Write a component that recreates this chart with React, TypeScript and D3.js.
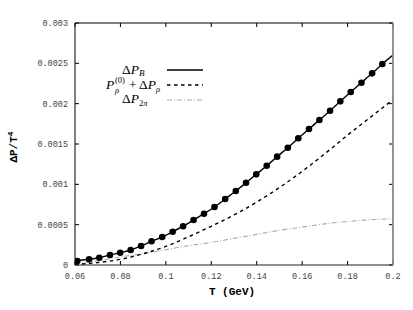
import React from "react";
import * as d3 from "d3";

// ΔP_B (solid with markers)
const bT = [0.0610, 0.0662, 0.0707, 0.0754, 0.0799, 0.0845, 0.0891, 0.0937, 0.0984, 0.1030,
  0.1076, 0.1122, 0.1168, 0.1214, 0.1261, 0.1308, 0.1353, 0.1398, 0.1444, 0.1490,
  0.1537, 0.1583, 0.1630, 0.1676, 0.1723, 0.1768, 0.1814, 0.1861, 0.1908, 0.1953];
const bV = [0.00005, 0.00007, 0.00009, 0.000124, 0.000152, 0.000186, 0.000236, 0.000295, 0.000347, 0.000412,
  0.000481, 0.000558, 0.000636, 0.000719, 0.000818, 0.000917, 0.00102, 0.001124, 0.00123, 0.001343,
  0.001454, 0.001571, 0.001686, 0.001797, 0.001913, 0.002029, 0.002145, 0.00226, 0.002376, 0.002492];
const bLineStart = [0.06, 0.00004];
const bLineEnd = [0.2, 0.002603];

// P_rho^(0) + ΔP_rho (dashed)
const rhoT = [0.06, 0.07, 0.08, 0.09, 0.10, 0.11, 0.12, 0.13, 0.14, 0.15, 0.16, 0.17, 0.18, 0.19, 0.20];
const rhoV = [0.000005, 0.00003, 0.00007, 0.00014, 0.00023, 0.00035, 0.00048, 0.00062, 0.00078, 0.00096,
  0.00116, 0.00138, 0.00161, 0.00183, 0.00205];

// ΔP_2π (gray dash-dot)
const pipiT = [0.06, 0.07, 0.08, 0.09, 0.10, 0.11, 0.12, 0.13, 0.14, 0.15, 0.16, 0.17, 0.18, 0.19, 0.20];
const pipiV = [0.00002, 0.00005, 0.0001, 0.00014, 0.00019, 0.00024, 0.00028, 0.00033, 0.00038, 0.00043,
  0.00047, 0.00051, 0.00054, 0.00056, 0.000575];

const xTicks = [0.06, 0.08, 0.1, 0.12, 0.14, 0.16, 0.18, 0.2];
const xTickLabels = ["0.06", "0.08", "0.1", "0.12", "0.14", "0.16", "0.18", "0.2"];
const yTicks = [0, 0.0005, 0.001, 0.0015, 0.002, 0.0025, 0.003];
const yTickLabels = ["0", "0.0005", "0.001", "0.0015", "0.002", "0.0025", "0.003"];

export default function App() {
  const W = 413, H = 310;
  const L = 75, R = 393, T = 23, B = 265;
  const x = d3.scaleLinear().domain([0.06, 0.2]).range([L, R]);
  const y = d3.scaleLinear().domain([0, 0.003]).range([B, T]);

  const line = d3.line<[number, number]>()
    .x(d => x(d[0])).y(d => y(d[1]))
    .curve(d3.curveMonotoneX);

  const bPts: [number, number][] = [
    [bLineStart[0], bLineStart[1]],
    ...bT.map((t, i) => [t, bV[i]] as [number, number]),
    [bLineEnd[0], bLineEnd[1]],
  ];
  const rhoPts = rhoT.map((t, i) => [t, rhoV[i]] as [number, number]);
  const pipiPts = pipiT.map((t, i) => [t, pipiV[i]] as [number, number]);

  const mono = "'Liberation Mono', 'DejaVu Sans Mono', monospace";
  const serif = "'Liberation Serif', 'DejaVu Serif', serif";
  const tickLen = 4;

  return (
    <svg width={W} height={H} style={{ position: "absolute", left: 0, top: 0, background: "#fff" }}>
      <defs>
        <clipPath id="plot">
          <rect x={L} y={T} width={R - L} height={B - T} />
        </clipPath>
      </defs>
      <rect x={0} y={0} width={W} height={H} fill="#fff" />

      {/* ticks */}
      {xTicks.map((t, i) => (
        <g key={"xt" + i}>
          <line x1={x(t)} x2={x(t)} y1={B} y2={B - tickLen} stroke="#000" strokeWidth={1} />
          <line x1={x(t)} x2={x(t)} y1={T} y2={T + tickLen} stroke="#000" strokeWidth={1} />
          <text x={x(t)} y={279} textAnchor="middle" fontFamily={mono} fontSize={8.5} fill="#444">
            {xTickLabels[i]}
          </text>
        </g>
      ))}
      {yTicks.map((t, i) => (
        <g key={"yt" + i}>
          <line x1={L} x2={L + tickLen} y1={y(t)} y2={y(t)} stroke="#000" strokeWidth={1} />
          <line x1={R} x2={R - tickLen} y1={y(t)} y2={y(t)} stroke="#000" strokeWidth={1} />
          <text x={68} y={y(t) + 3} textAnchor="end" fontFamily={mono} fontSize={8.5} fill="#444">
            {yTickLabels[i]}
          </text>
        </g>
      ))}

      {/* curves */}
      <g clipPath="url(#plot)">
        <path d={line(pipiPts) || ""} fill="none" stroke="#aaa" strokeWidth={1.1}
          strokeDasharray="5,2,1,2" />
        <path d={line(rhoPts) || ""} fill="none" stroke="#000" strokeWidth={1.4}
          strokeDasharray="3.5,3.5" />
        <path d={line(bPts) || ""} fill="none" stroke="#000" strokeWidth={1.4} />
        {bT.map((t, i) => (
          <circle key={"d" + i} cx={x(t)} cy={y(bV[i])} r={3.3} fill="#000" />
        ))}
      </g>

      {/* frame */}
      <line x1={L} x2={R} y1={T} y2={T} stroke="#000" strokeWidth={1} />
      <line x1={L} x2={L} y1={T} y2={B} stroke="#000" strokeWidth={1} />
      <line x1={L} x2={R} y1={B} y2={B} stroke="#222" strokeWidth={1.2} />
      <line x1={R} x2={R} y1={T} y2={B} stroke="#888" strokeWidth={1.8} />

      {/* legend */}
      <g fontFamily={serif} fontSize={13.5} fill="#000">
        <text x={122} y={74}>
          Δ<tspan fontStyle="italic">P</tspan>
          <tspan fontStyle="italic" fontSize={9} dy={2}>B</tspan>
        </text>
        <line x1={167} x2={203} y1={70} y2={70} stroke="#000" strokeWidth={1.4} />

        <text x={106} y={89}><tspan fontStyle="italic">P</tspan></text>
        <text x={115} y={83} fontSize={8.5}>(0)</text>
        <text x={115} y={93} fontSize={8.5} fontStyle="italic">ρ</text>
        <text x={129} y={89}>+</text>
        <text x={139} y={89}>
          Δ<tspan fontStyle="italic">P</tspan>
          <tspan fontStyle="italic" fontSize={8.5} dy={2.5}>ρ</tspan>
        </text>
        <line x1={167} x2={203} y1={85} y2={85} stroke="#000" strokeWidth={1.4} strokeDasharray="3.5,3.5" />

        <text x={122} y={103}>
          Δ<tspan fontStyle="italic">P</tspan>
          <tspan fontSize={8.5} dy={2.5}>2</tspan><tspan fontSize={8.5} fontStyle="italic">π</tspan>
        </text>
        <line x1={167} x2={203} y1={100} y2={100} stroke="#aaa" strokeWidth={1.1} strokeDasharray="5,2,1,2" />
      </g>

      {/* axis titles */}
      <text x={232} y={295} textAnchor="middle" fontFamily={mono} fontWeight="bold" fontSize={11} fill="#000">
        T (GeV)
      </text>
      <text transform="translate(17,147) rotate(-90)" textAnchor="middle" fontFamily={mono}
        fontWeight="bold" fontSize={11} fill="#000">
        ΔP/T<tspan fontSize={8} dy={-4}>4</tspan>
      </text>
    </svg>
  );
}
